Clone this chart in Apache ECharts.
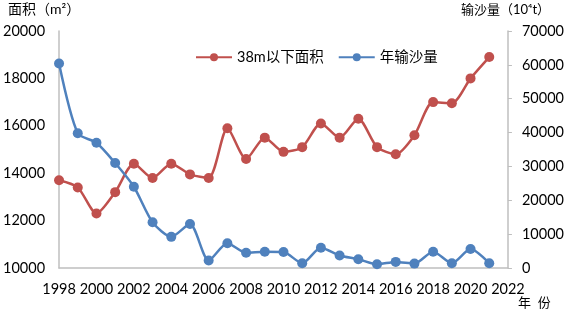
<!DOCTYPE html>
<html>
<head>
<meta charset="utf-8">
<script src="https://cdn.jsdelivr.net/npm/echarts@6/dist/echarts.min.js"></script>
<style>
    html,body{margin:0;padding:0;background:#fff;}
    #chart{width:567px;height:312px;}
</style>
</head>
<body>
<div id="chart"></div>
<script>
    const years = [1998,1999,2000,2001,2002,2003,2004,2005,2006,2007,2008,2009,2010,2011,2012,2013,2014,2015,2016,2017,2018,2019,2020,2021]
    // 38m以下面积 (m²)
    const areaValues = [13700,13400,12300,13200,14400,13800,14400,13950,13800,15900,14600,15500,14900,15100,16100,15500,16300,15100,14800,15600,17000,16950,18000,18900]
    // 年输沙量 (10^4 t)
    const sandValues = [60400,39800,37000,31000,24000,13500,9200,13000,2200,7300,4500,4800,4700,1400,6000,3700,2600,1100,1800,1300,4800,1400,5600,1400]

    const font = 'Lato, "Noto Sans CJK SC", sans-serif'
    const axisGray = '#bfbfbf'
    const plain = (v) => String(v)

    const chartInstance = echarts.init(document.getElementById('chart'))
    const option = {
        backgroundColor:'#fff',
        textStyle:{ fontFamily:font },
        animation:false,
        grid:{ left:54, right:56, top:31, bottom:44, containLabel:false },
        legend:{
            top:45,
            left:190,
            itemWidth:36,
            itemHeight:10,
            itemGap:14,
            textStyle:{ fontSize:14.5, color:'#000', fontFamily:font },
            data:['38m以下面积','年输沙量']
        },
        graphic:[
            { type:'text', left:8, top:2, style:{ text:'面积（m²）', fontSize:14, fill:'#000', fontFamily:font } },
            { type:'text', left:461, top:3, style:{ text:'输沙量（10⁴t）', fontSize:13, fill:'#000', fontFamily:font } },
            { type:'text', left:518, top:296, style:{ text:'年  份', fontSize:13, fill:'#000', fontFamily:font } }
        ],
        xAxis:{
            type:'value',
            min:1998,
            max:2022,
            interval:2,
            axisLine:{ lineStyle:{ color:axisGray, width:1.5 } },
            axisTick:{ show:false },
            splitLine:{ show:false },
            axisLabel:{ color:'#000', fontSize:14.5, margin:14, fontFamily:font, formatter:plain }
        },
        yAxis:[
            {
                type:'value',
                min:10000,
                max:20000,
                interval:2000,
                axisLine:{ show:true, lineStyle:{ color:axisGray, width:1.5 } },
                axisTick:{ show:false },
                splitLine:{ show:false },
                axisLabel:{ color:'#000', fontSize:14.5, margin:14, fontFamily:font, formatter:plain }
            },
            {
                type:'value',
                min:0,
                max:70000,
                interval:10000,
                position:'right',
                axisLine:{ show:true, lineStyle:{ color:axisGray, width:1.5 } },
                axisTick:{ show:true, length:4, lineStyle:{ color:axisGray } },
                splitLine:{ show:false },
                axisLabel:{ color:'#000', fontSize:14.5, margin:14, fontFamily:font, formatter:plain }
            }
        ],
        series:[
            {
                name:'38m以下面积',
                type:'line',
                yAxisIndex:0,
                smooth:0.25,
                symbol:'circle',
                symbolSize:10,
                color:'#C0504D',
                lineStyle:{ width:2.5 },
                data:years.map((y,i) => [y, areaValues[i]])
            },
            {
                name:'年输沙量',
                type:'line',
                yAxisIndex:1,
                smooth:0.25,
                symbol:'circle',
                symbolSize:10,
                color:'#4F81BD',
                lineStyle:{ width:2.5 },
                data:years.map((y,i) => [y, sandValues[i]])
            }
        ]
    }
    chartInstance.setOption(option)
</script>
</body>
</html>
